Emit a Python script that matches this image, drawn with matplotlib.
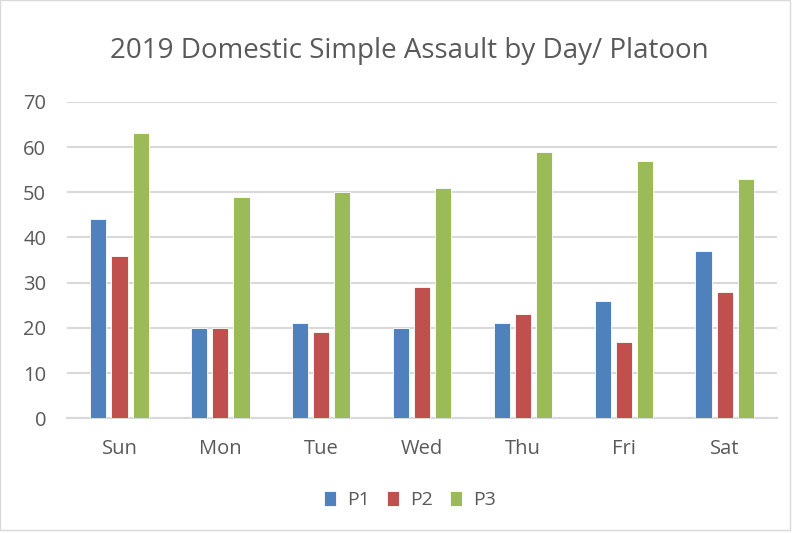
import numpy as np
import matplotlib.pyplot as plt
from matplotlib.patches import Rectangle

days = ["Sun", "Mon", "Tue", "Wed", "Thu", "Fri", "Sat"]
p1 = [44, 20, 21, 20, 21, 26, 37]
p2 = [36, 20, 19, 29, 23, 17, 28]
p3 = [63, 49, 50, 51, 59, 57, 53]
y_ticks = [0, 10, 20, 30, 40, 50, 60, 70]

colors = ["#4F81BD", "#C0504D", "#9BBB59"]
text_col = "#595959"

plt.rcParams['font.family'] = ['Open Sans', 'DejaVu Sans']

fig = plt.figure(figsize=(7.93, 5.33), dpi=100)
ax = fig.add_axes([0.0845, 0.215, 0.8955, 0.594])

x = np.arange(len(days))
w = 0.16
step = 0.21
for i, (vals, name) in enumerate(zip([p1, p2, p3], ["P1", "P2", "P3"])):
    ax.bar(x + (i - 1) * step, vals, width=w, color=colors[i], label=name,
           edgecolor="white", linewidth=0.6, zorder=3)

ax.set_xlim(-0.52, 6.52)
ax.set_ylim(0, 70)
ax.set_yticks(y_ticks)
ax.set_xticks(x)
ax.set_xticklabels(days)
ax.grid(axis='y', color="#D9D9D9", linewidth=1.5, zorder=0)
for s in ["top", "right", "left"]:
    ax.spines[s].set_visible(False)
ax.spines["bottom"].set_color("#D9D9D9")
ax.spines["bottom"].set_linewidth(1.5)
ax.tick_params(axis='both', length=0, labelsize=14.5, colors=text_col)
ax.tick_params(axis='y', pad=15)
ax.tick_params(axis='x', pad=15)

fig.text(0.516, 0.905, "2019 Domestic Simple Assault by Day/ Platoon",
         ha="center", va="center", fontsize=20, color=text_col)

fig.legend(loc="center", bbox_to_anchor=(0.517, 0.062), ncol=3, frameon=False,
           fontsize=14, handlelength=0.62, handleheight=0.85, columnspacing=0.9,
           handletextpad=0.55, labelcolor=text_col)

fig.patches.append(Rectangle((0.0, 0.005), 0.996, 0.995, transform=fig.transFigure,
                             fill=False, edgecolor="#D9D9D9", linewidth=1))

fig.savefig("out.png", dpi=100)
